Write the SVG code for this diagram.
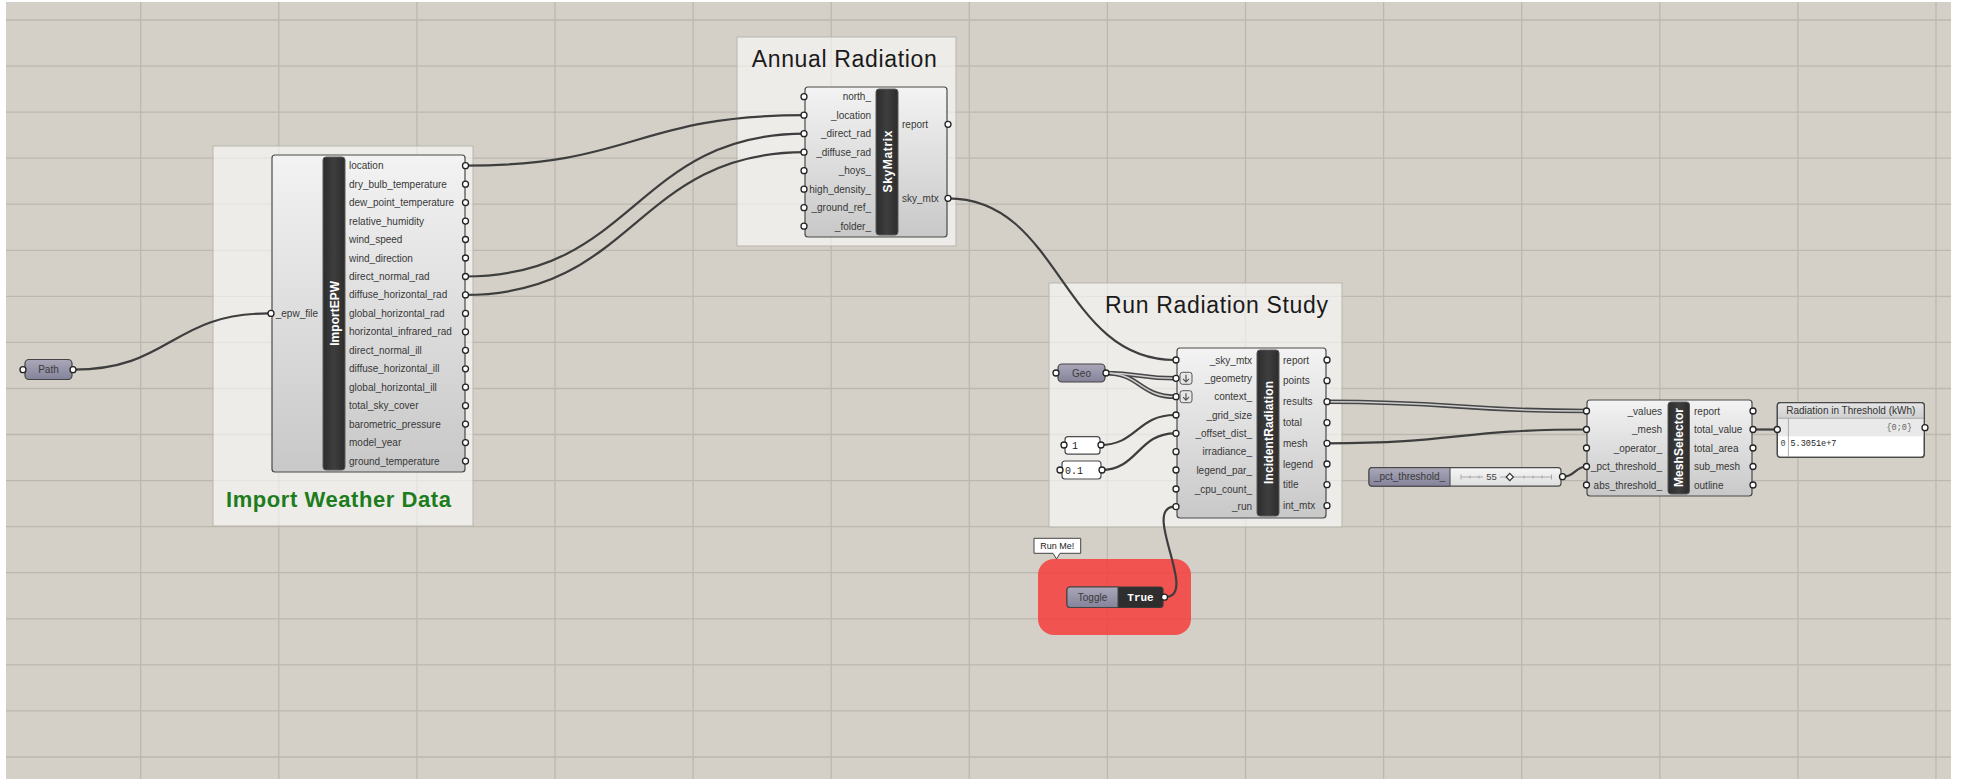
<svg xmlns="http://www.w3.org/2000/svg" width="1964" height="779" viewBox="0 0 1964 779">
<defs>
<linearGradient id="compGrad" x1="0" y1="0" x2="0" y2="1">
<stop offset="0" stop-color="#f3f3f3"/><stop offset="1" stop-color="#c8c8c8"/>
</linearGradient>
<linearGradient id="barGrad" x1="0" y1="0" x2="1" y2="0">
<stop offset="0" stop-color="#2c2c2c"/><stop offset="0.5" stop-color="#3e3e3e"/><stop offset="1" stop-color="#2c2c2c"/>
</linearGradient>
<linearGradient id="paramGrad" x1="0" y1="0" x2="0" y2="1">
<stop offset="0" stop-color="#a9a7b8"/><stop offset="1" stop-color="#85839a"/>
</linearGradient>
<linearGradient id="sliderGrad" x1="0" y1="0" x2="0" y2="1">
<stop offset="0" stop-color="#f6f6f6"/><stop offset="1" stop-color="#dedede"/>
</linearGradient>
<linearGradient id="headGrad" x1="0" y1="0" x2="0" y2="1">
<stop offset="0" stop-color="#e4e4e4"/><stop offset="1" stop-color="#cfcfcf"/>
</linearGradient>
</defs>
<style>
.comp{fill:url(#compGrad);stroke:#4a4a4a;stroke-width:1.2}
.bar{fill:url(#barGrad);stroke:#5a5a5a;stroke-width:1}
.bartxt{font-family:"Liberation Sans",Arial,sans-serif;font-weight:bold;font-size:12px;fill:#ffffff;text-anchor:middle}
.lbl{font-family:"Liberation Sans",Arial,sans-serif;font-size:10px;fill:#383838}
.in{text-anchor:end}
.grip{fill:#ffffff;stroke:#222;stroke-width:1.3}
.wire{fill:none;stroke:#3e3e3e;stroke-width:2.2}
.wireo{fill:none;stroke:#464646;stroke-width:4.6}
.wirei{fill:none;stroke:#cfcfcf;stroke-width:1.5}
.group{fill:#ffffff;fill-opacity:0.6;stroke:#b8b5ad;stroke-width:1}
.title{font-family:"Liberation Sans",Arial,sans-serif;font-size:23px;fill:#1a1a1a}
.param{fill:url(#paramGrad);stroke:#444;stroke-width:1.2}
.ptxt{font-family:"Liberation Sans",Arial,sans-serif;font-size:10px;fill:#3a3a3a;text-anchor:middle}
.mono{font-family:"Liberation Mono","DejaVu Sans Mono",monospace}
</style>
<rect x="0" y="0" width="1964" height="779" fill="#ffffff"/>
<rect x="6" y="2" width="1945" height="777" fill="#d4d0c8"/>
<path fill="none" stroke="#bcb8b0" stroke-width="1.3" d="M140.7,2V779M278.8,2V779M416.9,2V779M555,2V779M693.1,2V779M831.2,2V779M969.3,2V779M1107.4,2V779M1245.5,2V779M1383.6,2V779M1521.7,2V779M1659.8,2V779M1797.9,2V779M1936,2V779M6,20H1951M6,66.1H1951M6,112.1H1951M6,158.2H1951M6,204.2H1951M6,250.3H1951M6,296.4H1951M6,342.4H1951M6,388.5H1951M6,434.5H1951M6,480.6H1951M6,526.7H1951M6,572.7H1951M6,618.8H1951M6,664.8H1951M6,710.9H1951M6,757H1951"/>

<g id="group-import-weather">
<rect class="group" x="213" y="146" width="260" height="380"/>
<text x="226" y="506.7" font-family="Liberation Sans, Arial, sans-serif" font-weight="bold" font-size="22" fill="#1d7d1d" textLength="225">Import Weather Data</text>
</g>
<g id="group-annual-radiation">
<rect class="group" x="737" y="37" width="219" height="209"/>
<text class="title" x="751.7" y="67.3" textLength="185">Annual Radiation</text>
</g>
<g id="group-run-radiation">
<rect class="group" x="1049" y="283" width="293" height="244"/>
<text class="title" x="1105" y="313.3" textLength="223">Run Radiation Study</text>
</g>
<g id="group-run-me">
<rect x="1038" y="559" width="153" height="76" rx="16" fill="#f43d3b" fill-opacity="0.85"/>
</g>

<g id="connectors">
<path class="wire" d="M73,369.7 C171,369.7 171,313.4 269,313.4"/>
<path class="wire" d="M465,165.7 C635,165.7 635,115.2 805,115.2"/>
<path class="wire" d="M465,276.5 C635,276.5 635,133.7 805,133.7"/>
<path class="wire" d="M465,294.9 C635,294.9 635,152.2 805,152.2"/>
<path class="wire" d="M948,198.3 C1061,198.3 1061,360 1175,360"/>
<path class="wireo" d="M1105,373 C1140,373 1140,378.3 1175,378.3"/>
<path class="wireo" d="M1105,373 C1140,373 1140,396.7 1175,396.7"/>
<path class="wirei" d="M1105,373 C1140,373 1140,378.3 1175,378.3"/>
<path class="wirei" d="M1105,373 C1140,373 1140,396.7 1175,396.7"/>
<path class="wire" d="M1100,445 C1137,445 1137,415 1175,415"/>
<path class="wire" d="M1101,470 C1138,470 1138,433.3 1175,433.3"/>
<path class="wire" d="M1165,597 C1200,597 1140,506.7 1175,506.7"/>
<path class="wireo" d="M1327,401.7 C1457,401.7 1457,411 1587,411"/>
<path class="wirei" d="M1327,401.7 C1457,401.7 1457,411 1587,411"/>
<path class="wire" d="M1327,443.3 C1457,443.3 1457,429.5 1587,429.5"/>
<path class="wire" d="M1563,476.7 C1575,476.7 1575,466.5 1587,466.5"/>
<path class="wire" d="M1753,429.5 L1777,429.5"/>
</g>

<g id="node-path">
<rect class="param" x="25" y="359.5" width="47" height="20" rx="4"/>
<text class="ptxt" x="48.5" y="373">Path</text>
<circle class="grip" cx="23" cy="369.7" r="3"/>
<circle class="grip" cx="73" cy="369.7" r="3"/>
</g>

<g id="node-importepw">
<rect class="comp" x="272" y="155" width="193" height="317" rx="3"/>
<rect class="bar" x="323" y="157" width="22" height="313" rx="3"/>
<text class="bartxt" transform="translate(338.5,313.3) rotate(-90)" textLength="65">ImportEPW</text>
<text class="lbl in" x="318" y="316.8">_epw_file</text>
<circle class="grip" cx="271" cy="313.4" r="3"/>
<g class="lbl">
<text x="349" y="169.2">location</text>
<text x="349" y="187.7">dry_bulb_temperature</text>
<text x="349" y="206.1">dew_point_temperature</text>
<text x="349" y="224.6">relative_humidity</text>
<text x="349" y="243">wind_speed</text>
<text x="349" y="261.5">wind_direction</text>
<text x="349" y="280">direct_normal_rad</text>
<text x="349" y="298.4">diffuse_horizontal_rad</text>
<text x="349" y="316.9">global_horizontal_rad</text>
<text x="349" y="335.3">horizontal_infrared_rad</text>
<text x="349" y="353.8">direct_normal_ill</text>
<text x="349" y="372.3">diffuse_horizontal_ill</text>
<text x="349" y="390.7">global_horizontal_ill</text>
<text x="349" y="409.2">total_sky_cover</text>
<text x="349" y="427.6">barometric_pressure</text>
<text x="349" y="446.1">model_year</text>
<text x="349" y="464.6">ground_temperature</text>
</g>
<g>
<circle class="grip" cx="465.5" cy="165.7" r="3"/>
<circle class="grip" cx="465.5" cy="184.2" r="3"/>
<circle class="grip" cx="465.5" cy="202.6" r="3"/>
<circle class="grip" cx="465.5" cy="221.1" r="3"/>
<circle class="grip" cx="465.5" cy="239.5" r="3"/>
<circle class="grip" cx="465.5" cy="258" r="3"/>
<circle class="grip" cx="465.5" cy="276.5" r="3"/>
<circle class="grip" cx="465.5" cy="294.9" r="3"/>
<circle class="grip" cx="465.5" cy="313.4" r="3"/>
<circle class="grip" cx="465.5" cy="331.8" r="3"/>
<circle class="grip" cx="465.5" cy="350.3" r="3"/>
<circle class="grip" cx="465.5" cy="368.8" r="3"/>
<circle class="grip" cx="465.5" cy="387.2" r="3"/>
<circle class="grip" cx="465.5" cy="405.7" r="3"/>
<circle class="grip" cx="465.5" cy="424.1" r="3"/>
<circle class="grip" cx="465.5" cy="442.6" r="3"/>
<circle class="grip" cx="465.5" cy="461.1" r="3"/>
</g>
</g>

<g id="node-skymatrix">
<rect class="comp" x="805" y="87" width="142" height="150" rx="3"/>
<rect class="bar" x="876" y="89" width="22" height="146" rx="3"/>
<text class="bartxt" transform="translate(891.5,161.5) rotate(-90)" textLength="62">SkyMatrix</text>
<g class="lbl in">
<text x="871" y="100.2">north_</text>
<text x="871" y="118.7">_location</text>
<text x="871" y="137.2">_direct_rad</text>
<text x="871" y="155.7">_diffuse_rad</text>
<text x="871" y="174.2">_hoys_</text>
<text x="871" y="192.7">high_density_</text>
<text x="871" y="211.2">_ground_ref_</text>
<text x="871" y="229.7">_folder_</text>
</g>
<g class="lbl">
<text x="902" y="127.8">report</text>
<text x="902" y="201.8">sky_mtx</text>
</g>
<circle class="grip" cx="804" cy="96.7" r="3"/>
<circle class="grip" cx="804" cy="115.2" r="3"/>
<circle class="grip" cx="804" cy="133.7" r="3"/>
<circle class="grip" cx="804" cy="152.2" r="3"/>
<circle class="grip" cx="804" cy="170.7" r="3"/>
<circle class="grip" cx="804" cy="189.2" r="3"/>
<circle class="grip" cx="804" cy="207.7" r="3"/>
<circle class="grip" cx="804" cy="226.2" r="3"/>
<circle class="grip" cx="948" cy="124.3" r="3"/>
<circle class="grip" cx="948" cy="198.3" r="3"/>
</g>

<g id="node-geo">
<rect class="param" x="1058" y="364" width="47" height="18" rx="4"/>
<text class="ptxt" x="1081.5" y="376.5">Geo</text>
<circle class="grip" cx="1056" cy="373" r="3"/>
<circle class="grip" cx="1106" cy="373" r="3"/>
</g>

<g id="node-panel-1">
<rect x="1065" y="436.7" width="35" height="17.5" rx="3" fill="#ffffff" stroke="#4a4a4a" stroke-width="1.2"/>
<text class="mono" x="1072" y="449" font-size="10" fill="#222">1</text>
<circle class="grip" cx="1064" cy="445" r="3"/>
<circle class="grip" cx="1101" cy="445" r="3"/>
</g>
<g id="node-panel-01">
<rect x="1062" y="461" width="39" height="18" rx="3" fill="#ffffff" stroke="#4a4a4a" stroke-width="1.2"/>
<text class="mono" x="1065" y="473.5" font-size="10" fill="#222">0.1</text>
<circle class="grip" cx="1060" cy="470" r="3"/>
<circle class="grip" cx="1102" cy="470" r="3"/>
</g>

<g id="node-incidentradiation">
<rect class="comp" x="1177" y="348" width="149" height="170" rx="3"/>
<rect class="bar" x="1257" y="350" width="22" height="166" rx="3"/>
<text class="bartxt" transform="translate(1272.5,432.5) rotate(-90)" textLength="103">IncidentRadiation</text>
<g class="lbl in">
<text x="1252" y="363.5">_sky_mtx</text>
<text x="1252" y="381.8">_geometry</text>
<text x="1252" y="400.2">context_</text>
<text x="1252" y="418.5">_grid_size</text>
<text x="1252" y="436.8">_offset_dist_</text>
<text x="1252" y="455.2">irradiance_</text>
<text x="1252" y="473.5">legend_par_</text>
<text x="1252" y="492.5">_cpu_count_</text>
<text x="1252" y="510.2">_run</text>
</g>
<g class="lbl">
<text x="1283" y="363.5">report</text>
<text x="1283" y="384.2">points</text>
<text x="1283" y="405.2">results</text>
<text x="1283" y="426.2">total</text>
<text x="1283" y="446.8">mesh</text>
<text x="1283" y="467.5">legend</text>
<text x="1283" y="488.2">title</text>
<text x="1283" y="509.2">int_mtx</text>
</g>
<g>
<rect x="1180" y="372.3" width="12" height="12" rx="2.5" fill="#e6e6e6" stroke="#555" stroke-width="1"/>
<path d="M1186,374.8V381.6M1183,378.8L1186,381.8L1189,378.8" fill="none" stroke="#555" stroke-width="1.2"/>
<rect x="1180" y="390.7" width="12" height="12" rx="2.5" fill="#e6e6e6" stroke="#555" stroke-width="1"/>
<path d="M1186,393.2V400M1183,397.2L1186,400.2L1189,397.2" fill="none" stroke="#555" stroke-width="1.2"/>
</g>
<circle class="grip" cx="1176" cy="360" r="3"/>
<circle class="grip" cx="1176" cy="378.3" r="3"/>
<circle class="grip" cx="1176" cy="396.7" r="3"/>
<circle class="grip" cx="1176" cy="415" r="3"/>
<circle class="grip" cx="1176" cy="433.3" r="3"/>
<circle class="grip" cx="1176" cy="451.7" r="3"/>
<circle class="grip" cx="1176" cy="470" r="3"/>
<circle class="grip" cx="1176" cy="489" r="3"/>
<circle class="grip" cx="1176" cy="506.7" r="3"/>
<circle class="grip" cx="1327" cy="360" r="3"/>
<circle class="grip" cx="1327" cy="380.7" r="3"/>
<circle class="grip" cx="1327" cy="401.7" r="3"/>
<circle class="grip" cx="1327" cy="422.7" r="3"/>
<circle class="grip" cx="1327" cy="443.3" r="3"/>
<circle class="grip" cx="1327" cy="464" r="3"/>
<circle class="grip" cx="1327" cy="484.7" r="3"/>
<circle class="grip" cx="1327" cy="505.7" r="3"/>
</g>

<g id="node-run-me-label">
<path d="M1034,538.3H1080.7V553.3H1060L1056.5,559L1053,553.3H1034Z" fill="#ffffff" stroke="#444" stroke-width="1"/>
<text x="1057.3" y="549" font-family="Liberation Sans, Arial, sans-serif" font-size="9" fill="#222" text-anchor="middle">Run Me!</text>
</g>

<g id="node-toggle">
<rect x="1067" y="587" width="96" height="20.5" rx="3" fill="#2e2e2e" stroke="#3a3a3a" stroke-width="1.2"/>
<path d="M1070,587H1118V607.5H1070A3,3 0 0 1 1067,604.5V590A3,3 0 0 1 1070,587Z" fill="url(#paramGrad)" stroke="#444" stroke-width="1"/>
<text class="ptxt" x="1092.5" y="600.8">Toggle</text>
<text class="mono" x="1140.5" y="601" font-size="11" font-weight="bold" fill="#ffffff" text-anchor="middle">True</text>
<circle class="grip" cx="1164.5" cy="597.2" r="3"/>
</g>

<g id="node-slider">
<rect x="1369" y="467.7" width="192" height="18.5" rx="3" fill="url(#sliderGrad)" stroke="#4a4a4a" stroke-width="1.2"/>
<path d="M1372,467.7H1450V486.2H1372A3,3 0 0 1 1369,483.2V470.7A3,3 0 0 1 1372,467.7Z" fill="url(#paramGrad)" stroke="#444" stroke-width="1"/>
<text class="ptxt" x="1409.5" y="480.2" font-size="9.5">_pct_threshold_</text>
<path d="M1461,477H1483M1500,477H1552M1461,474.5V479.5M1470,475.5V478.5M1479,475.5V478.5M1524,475.5V478.5M1533,475.5V478.5M1542,475.5V478.5M1551.5,474.5V479.5" fill="none" stroke="#9a9a9a" stroke-width="0.8"/>
<text x="1491.5" y="480.3" font-family="Liberation Sans, Arial, sans-serif" font-size="9.5" fill="#444" text-anchor="middle">55</text>
<path d="M1509.8,473.4L1513.4,477L1509.8,480.6L1506.2,477Z" fill="#ffffff" stroke="#333" stroke-width="1.2"/>
<circle class="grip" cx="1562.5" cy="476.7" r="3"/>
</g>

<g id="node-meshselector">
<rect class="comp" x="1587" y="400" width="165" height="96" rx="3"/>
<rect class="bar" x="1668" y="402" width="21.5" height="92" rx="3"/>
<text class="bartxt" transform="translate(1683,447.5) rotate(-90)" textLength="79">MeshSelector</text>
<g class="lbl in">
<text x="1662" y="414.5">_values</text>
<text x="1662" y="433">_mesh</text>
<text x="1662" y="451.5">_operator_</text>
<text x="1662" y="470">_pct_threshold_</text>
<text x="1662" y="488.5">abs_threshold_</text>
</g>
<g class="lbl">
<text x="1694" y="414.5">report</text>
<text x="1694" y="433">total_value</text>
<text x="1694" y="451.5">total_area</text>
<text x="1694" y="470">sub_mesh</text>
<text x="1694" y="488.5">outline</text>
</g>
<circle class="grip" cx="1586.5" cy="411" r="3"/>
<circle class="grip" cx="1586.5" cy="429.5" r="3"/>
<circle class="grip" cx="1586.5" cy="448" r="3"/>
<circle class="grip" cx="1586.5" cy="466.5" r="3"/>
<circle class="grip" cx="1586.5" cy="485" r="3"/>
<circle class="grip" cx="1753" cy="411" r="3"/>
<circle class="grip" cx="1753" cy="429.5" r="3"/>
<circle class="grip" cx="1753" cy="448" r="3"/>
<circle class="grip" cx="1753" cy="466.5" r="3"/>
<circle class="grip" cx="1753" cy="485" r="3"/>
</g>

<g id="node-panel-radiation">
<rect x="1777.3" y="402.7" width="147" height="54.6" rx="3" fill="#ffffff" stroke="#4a4a4a" stroke-width="1.2"/>
<rect x="1777.9" y="403.3" width="145.8" height="15" fill="url(#headGrad)"/>
<rect x="1777.9" y="418.3" width="145.8" height="18" fill="#e9e9e9"/>
<path d="M1777.9,418.3H1923.7M1788.4,418.3V456.7" fill="none" stroke="#9a9a9a" stroke-width="0.8"/>
<rect x="1777.3" y="402.7" width="147" height="54.6" rx="3" fill="none" stroke="#4a4a4a" stroke-width="1.2"/>
<text x="1850.8" y="414.3" font-family="Liberation Sans, Arial, sans-serif" font-size="10" fill="#333" text-anchor="middle" textLength="129">Radiation in Threshold (kWh)</text>
<text class="mono" x="1912" y="430" font-size="8.5" fill="#666" text-anchor="end">{0;0}</text>
<text class="mono" x="1780.5" y="445.5" font-size="8.5" fill="#444">0</text>
<text class="mono" x="1790.5" y="445.5" font-size="8.5" fill="#222">5.3051e+7</text>
<circle class="grip" cx="1777.3" cy="429.5" r="3"/>
<circle class="grip" cx="1925" cy="427.7" r="3"/>
</g>
</svg>
